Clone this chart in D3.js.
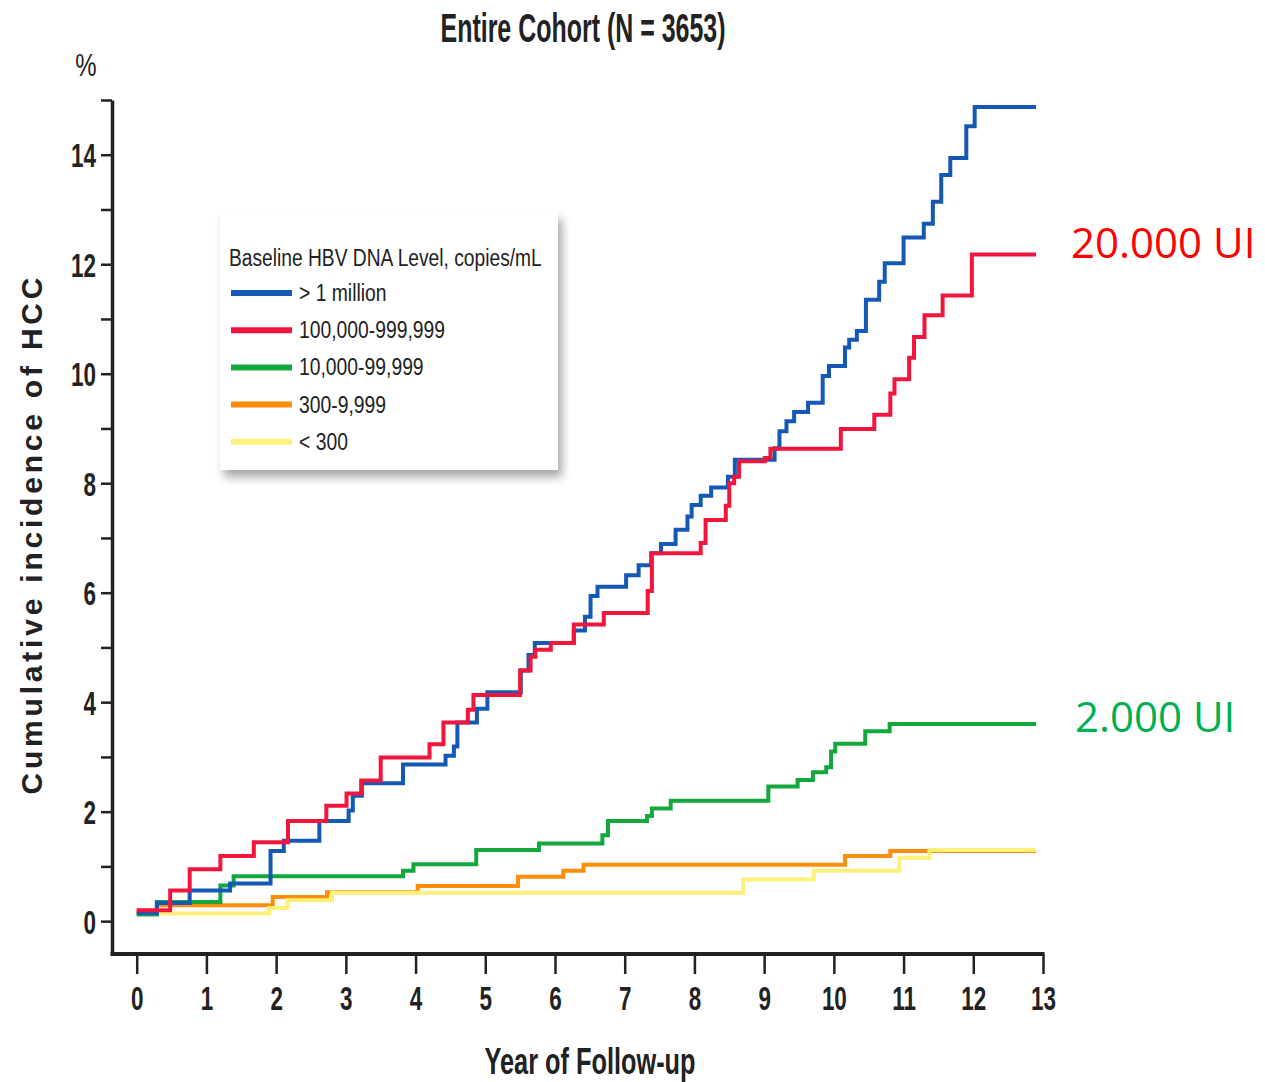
<!DOCTYPE html>
<html>
<head>
<meta charset="utf-8">
<script src="https://cdn.jsdelivr.net/npm/d3@7"></script>
<style>
  body { margin: 0; background: #fff; }
</style>
</head>
<body>
<svg id="svg" width="1265" height="1082"></svg>
<script>
const w = 1265;
const h = 1082;

// step points [year, cumulative %]
const over1Million = [[0, 0.15], [0.29, 0.33], [0.76, 0.56], [1.34, 0.69], [1.92, 1.28], [2.11, 1.47], [2.62, 1.83],
  [3.04, 2.02], [3.1, 2.29], [3.23, 2.52], [3.82, 2.86], [4.43, 3.02], [4.55, 3.19], [4.6, 3.63], [4.88, 3.88],
  [5.03, 4.18], [5.51, 4.58], [5.62, 4.86], [5.71, 5.08], [6.27, 5.31], [6.43, 5.56], [6.51, 5.94], [6.61, 6.11],
  [7.02, 6.32], [7.2, 6.5], [7.38, 6.72], [7.52, 6.89], [7.73, 7.15], [7.9, 7.39], [7.96, 7.6], [8.09, 7.77],
  [8.24, 7.92], [8.48, 8.12], [8.58, 8.43], [9.15, 8.64], [9.22, 8.95], [9.32, 9.13], [9.43, 9.3], [9.63, 9.47],
  [9.84, 9.96], [9.93, 10.14], [10.16, 10.48], [10.22, 10.62], [10.33, 10.78], [10.46, 11.35], [10.65, 11.68],
  [10.73, 12.02], [11.0, 12.49], [11.29, 12.74], [11.42, 13.14], [11.54, 13.63], [11.67, 13.94], [11.9, 14.52],
  [12.02, 14.87], [12.9, 14.87]];
const from100k = [[0, 0.2], [0.48, 0.56], [0.76, 0.95], [1.2, 1.19], [1.68, 1.44], [2.17, 1.83], [2.72, 2.11],
  [3.01, 2.33], [3.22, 2.57], [3.5, 2.99], [4.2, 3.23], [4.4, 3.63], [4.75, 3.86], [4.83, 4.13], [5.5, 4.58],
  [5.65, 4.83], [5.72, 4.96], [5.94, 5.08], [6.27, 5.42], [6.7, 5.63], [7.33, 6.03], [7.39, 6.72], [8.09, 6.91],
  [8.16, 7.33], [8.45, 7.59], [8.5, 8.0], [8.57, 8.12], [8.64, 8.4], [9.01, 8.46], [9.09, 8.63], [10.1, 8.99],
  [10.58, 9.25], [10.81, 9.64], [10.87, 9.9], [11.08, 10.29], [11.15, 10.67], [11.3, 11.07], [11.56, 11.43],
  [11.98, 12.18], [12.9, 12.18]];
const from10k = [[0, 0.12], [0.29, 0.35], [1.2, 0.65], [1.39, 0.82], [3.82, 0.92], [3.97, 1.04], [4.87, 1.3],
  [5.77, 1.42], [6.68, 1.57], [6.76, 1.83], [7.32, 1.92], [7.39, 2.06], [7.66, 2.2], [9.06, 2.46], [9.48, 2.58],
  [9.7, 2.72], [9.89, 2.81], [9.96, 3.1], [10.02, 3.24], [10.45, 3.47], [10.8, 3.6], [12.9, 3.6]];
const from300 = [[0, 0.19], [0.29, 0.29], [1.95, 0.44], [2.73, 0.53], [4.03, 0.64], [5.47, 0.81], [6.12, 0.92],
  [6.41, 1.03], [10.16, 1.19], [10.81, 1.28], [12.9, 1.28]];
const under300 = [[0, 0.14], [1.9, 0.24], [2.16, 0.38], [2.8, 0.52], [8.7, 0.76], [9.71, 0.92], [10.94, 1.16],
  [11.37, 1.3], [12.9, 1.3]];

const seriesLabels = ["> 1 million", "100,000-999,999", "10,000-99,999", "300-9,999", "< 300"];
const seriesData = [over1Million, from100k, from10k, from300, under300];
const seriesColors = ["#1459b6", "#f2163e", "#12a83e", "#ff8c0a", "#fff07a"];
const drawOrder = [3, 4, 2, 0, 1];

const xTickValues = d3.range(0, 14);
const yTickValues = d3.range(0, 16);

const titleText = "Entire Cohort (N = 3653)";
const legendTitle = "Baseline HBV DNA Level, copies/mL";
const notes = [{ text: "20.000 UI", series: 1, color: "#ff0000" }, { text: "2.000 UI", series: 2, color: "#00b050" }];

const sans = "'Liberation Sans', Arial, sans-serif";
const ink = "#222";

let svg = d3.select("#svg");

let xScale = d3.scaleLinear([0, 13], [136.7, 1043]);
let yScale = d3.scaleLinear([-0.6, 15], [954, 100]);
const axisX = 112;

// squeeze text to look like a condensed face
const condense = (sel, k) => {
  sel.each(function () {
    const len = this.getComputedTextLength();
    d3.select(this).attr("textLength", len * k).attr("lengthAdjust", "spacingAndGlyphs");
  });
};

// shadow for legend box
const defs = svg.append("defs");
defs.append("filter")
  .attr("id", "shadow")
  .attr("x", "-10%").attr("y", "-10%").attr("width", "130%").attr("height", "130%")
  .append("feDropShadow")
  .attr("dx", 4).attr("dy", 7).attr("stdDeviation", 5)
  .attr("flood-color", "#000").attr("flood-opacity", 0.35);

// Title
svg.append("text")
  .attr("x", 583).attr("y", 42)
  .attr("text-anchor", "middle")
  .attr("font-family", sans).attr("font-weight", "bold").attr("fill", ink)
  .attr("font-size", 41)
  .attr("textLength", 285).attr("lengthAdjust", "spacingAndGlyphs")
  .text(titleText);

svg.append("text")
  .attr("x", 86).attr("y", 76)
  .attr("text-anchor", "middle")
  .attr("font-family", sans).attr("fill", ink)
  .attr("font-size", 32)
  .text("%")
  .call(condense, 0.75);

// Y axis
let yAxis = svg.append("g")
  .attr("transform", `translate(${axisX},0)`)
  .call(d3.axisLeft(yScale).tickValues(yTickValues).tickSize(11).tickSizeOuter(0).tickPadding(5)
    .tickFormat((d) => (d % 2 === 0 ? d : "")));
yAxis.select(".domain").attr("stroke", ink).attr("stroke-width", 3.5);
yAxis.selectAll(".tick line").attr("stroke", ink).attr("stroke-width", 2.5);
yAxis.selectAll(".tick text")
  .attr("font-size", 34).attr("fill", ink).attr("font-family", sans).attr("font-weight", "bold")
  .attr("dy", "0.36em")
  .call(condense, 0.66);

// X axis
let xAxis = svg.append("g")
  .attr("transform", `translate(0,${yScale(-0.6)})`)
  .call(d3.axisBottom(xScale).tickValues(xTickValues).tickSize(20).tickSizeOuter(0).tickPadding(12));
xAxis.select(".domain").remove();
xAxis.selectAll(".tick line").attr("stroke", ink).attr("stroke-width", 2.5);
xAxis.selectAll(".tick text")
  .attr("font-size", 34).attr("fill", ink).attr("font-family", sans).attr("font-weight", "bold")
  .call(condense, 0.66);

svg.append("line")
  .attr("x1", axisX - 1.5).attr("x2", xScale(13) + 1.5)
  .attr("y1", yScale(-0.6)).attr("y2", yScale(-0.6))
  .attr("stroke", ink).attr("stroke-width", 4);

// axis titles
svg.append("text")
  .attr("x", 590).attr("y", 1074)
  .attr("text-anchor", "middle")
  .attr("font-family", sans).attr("font-weight", "bold").attr("fill", ink)
  .attr("font-size", 36)
  .attr("textLength", 211).attr("lengthAdjust", "spacingAndGlyphs")
  .text("Year of Follow-up");

svg.append("text")
  .attr("transform", "translate(42,536) rotate(-90)")
  .attr("text-anchor", "middle")
  .attr("font-family", sans).attr("fill", ink)
  .attr("font-size", 30)
  .attr("font-weight", "bold")
  .attr("textLength", 517).attr("lengthAdjust", "spacing")
  .text("Cumulative incidence of HCC");

// Curves
let lineFunc = d3.line()
  .x((d) => xScale(d[0]))
  .y((d) => yScale(d[1]))
  .curve(d3.curveStepAfter);

svg.append("g")
  .selectAll("path")
  .data(drawOrder)
  .join("path")
  .attr("fill", "none")
  .attr("stroke", (i) => seriesColors[i])
  .attr("stroke-width", 4)
  .attr("d", (i) => lineFunc(seriesData[i]));

// Legend
let legend = svg.append("g").attr("transform", "translate(220,212)");
legend.append("rect")
  .attr("width", 338).attr("height", 258)
  .attr("fill", "#fff")
  .attr("filter", "url(#shadow)");
legend.append("text")
  .attr("x", 9).attr("y", 54)
  .attr("font-family", sans).attr("fill", ink)
  .attr("font-size", 23)
  .text(legendTitle)
  .call(condense, 0.835);

let items = legend.selectAll(".item")
  .data(seriesLabels)
  .join("g")
  .attr("class", "item")
  .attr("transform", (d, i) => `translate(0,${81 + i * 37.2})`);
items.append("line")
  .attr("x1", 11).attr("x2", 72)
  .attr("stroke", (d, i) => seriesColors[i])
  .attr("stroke-width", 6);
items.append("text")
  .attr("x", 79).attr("y", 8)
  .attr("font-family", sans).attr("fill", ink)
  .attr("font-size", 23)
  .text((d) => d)
  .call(condense, 0.84);

// right-hand notes
svg.selectAll(".note")
  .data(notes)
  .join("text")
  .attr("class", "note")
  .attr("x", (d) => (d.series === 1 ? 1071 : 1075))
  .attr("y", (d) => {
    const s = seriesData[d.series];
    return yScale(s[s.length - 1][1]) + (d.series === 1 ? 3.5 : 8);
  })
  .attr("font-family", "'Open Sans', sans-serif")
  .attr("font-size", 42)
  .attr("fill", (d) => d.color)
  .text((d) => d.text);
</script>
</body>
</html>
